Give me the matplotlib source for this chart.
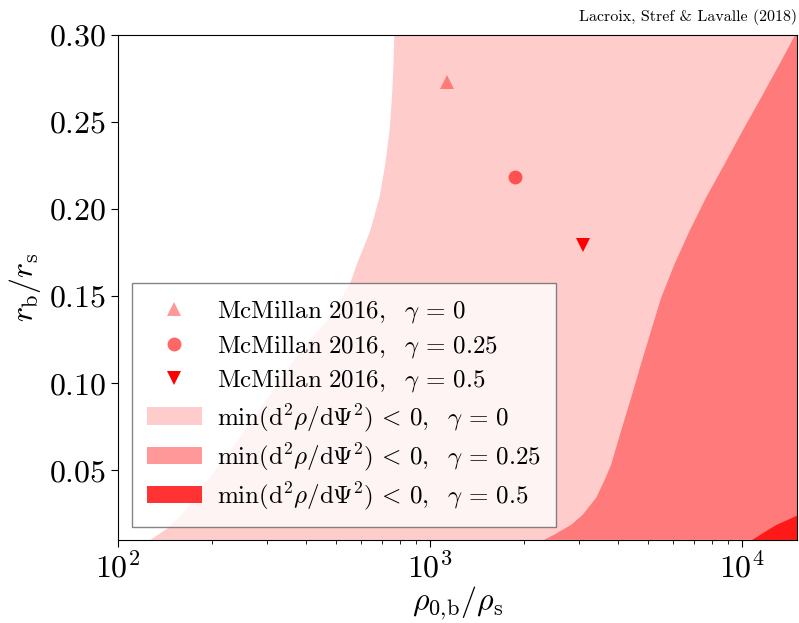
"""Stability region of the bulge+halo model (r_b/r_s vs rho_0b/rho_s)."""

import matplotlib

matplotlib.use("Agg")
import matplotlib.pyplot as plt
import numpy as np
from matplotlib.patches import Patch
from matplotlib.lines import Line2D

plt.rcParams["font.family"] = "serif"
plt.rcParams["font.serif"] = ["cmr10", "DejaVu Serif"]
plt.rcParams["mathtext.fontset"] = "cm"
plt.rcParams["axes.formatter.use_mathtext"] = True

# boundary of min(d2rho/dPsi2) < 0 region, gamma = 0  (x = rho_0b/rho_s, y = r_b/r_s)
g0_y = [0.0101, 0.0170, 0.0256, 0.0446, 0.0635, 0.0830, 0.1020, 0.1209,
        0.1381, 0.1571, 0.1685, 0.1875, 0.2070, 0.2260, 0.2455, 0.2644,
        0.2839, 0.3000, 0.3100]
g0_x = [127, 145, 162, 194, 234, 279, 331, 392,
        478, 554, 583, 643, 689, 719, 742, 755,
        764, 768, 770]

# gamma = 0.25
g25_y = [0.0101, 0.0130, 0.0187, 0.0244, 0.0342, 0.0437, 0.0532, 0.0727,
         0.0916, 0.1112, 0.1301, 0.1490, 0.1685, 0.1875, 0.2070, 0.2260,
         0.2455, 0.2644, 0.2839, 0.3000, 0.3100]
g25_x = [2320, 2497, 2831, 3083, 3405, 3612, 3803, 4095,
         4408, 4746, 5108, 5501, 6077, 6786, 7685, 8795,
         10070, 11540, 13240, 14790, 15800]

# gamma = 0.5
g50_y = [0.0050, 0.0101, 0.0141, 0.0187, 0.0244, 0.0300]
g50_x = [10000, 10690, 11590, 12760, 15000, 18000]

# McMillan 2016 points
mc_x = [1133, 1871, 3090]
mc_y = [0.2733, 0.2187, 0.1795]
gammas = ["0", "0.25", "0.5"]

fill_alpha = [0.2, 0.4, 0.8]
mark_alpha = [0.4, 0.6, 1.0]
markers = ["^", "o", "v"]

y_ticks = [0.05, 0.10, 0.15, 0.20, 0.25, 0.30]
y_ticklabels = ["0.05", "0.10", "0.15", "0.20", "0.25", "0.30"]

fig = plt.figure(figsize=(7.99, 6.23), dpi=100)
ax = fig.add_axes([0.1477, 0.1332, 0.9975 - 0.1477, 0.9438 - 0.1332])

for bx, by, a in [(g0_x, g0_y, fill_alpha[0]),
                  (g25_x, g25_y, fill_alpha[1]),
                  (g50_x, g50_y, fill_alpha[2])]:
    ax.fill_betweenx(np.array(by), np.array(bx), 1e6, color="red", alpha=a, lw=0)

for x, y, m, a in zip(mc_x, mc_y, markers, mark_alpha):
    ax.plot([x], [y], ls="none", marker=m, ms=10, color="red", alpha=a,
            markeredgewidth=0, zorder=5)

ax.set_xscale("log")
ax.set_xlim(100, 15000)
ax.set_ylim(0.01, 0.30)
ax.set_yticks(y_ticks)
ax.set_yticklabels([f"${t}$" for t in y_ticklabels])
ax.tick_params(axis="both", which="major", labelsize=23, length=5, direction="out")
ax.tick_params(axis="x", which="minor", length=3)
ax.set_xlabel(r"$\rho_{0,\!\mathrm{b}}/\rho_\mathrm{s}$", fontsize=23, labelpad=1)
ax.set_ylabel(r"$r_\mathrm{b}/r_\mathrm{s}$", fontsize=23, labelpad=4)

handles = []
labels = []
for m, a, g in zip(markers, mark_alpha, gammas):
    handles.append(Line2D([], [], ls="none", marker=m, ms=10, color="red",
                          alpha=a, markeredgewidth=0))
    labels.append(r"$\mathrm{McMillan\ 2016},\ \ \gamma\,=\," + g + "$")
for a, g in zip(fill_alpha, gammas):
    handles.append(Patch(facecolor="red", alpha=a, lw=0))
    labels.append(r"$\min(\mathrm{d}^2\rho/\mathrm{d}\Psi^2)\,<\,0,\ \ \gamma\,=\," + g + "$")

leg = ax.legend(handles, labels, loc="lower left", bbox_to_anchor=(0.0206, 0.0257),
                borderaxespad=0, fontsize=18, fancybox=False, framealpha=0.8,
                edgecolor="0.4", handlelength=2.2, handletextpad=0.6,
                borderpad=0.6, labelspacing=0.3)

fig.text(0.9975, 0.985, "Lacroix, Stref & Lavalle (2018)",
         ha="right", va="top", fontsize=11.5, family="cmr10")

fig.savefig("out.png", dpi=100)
